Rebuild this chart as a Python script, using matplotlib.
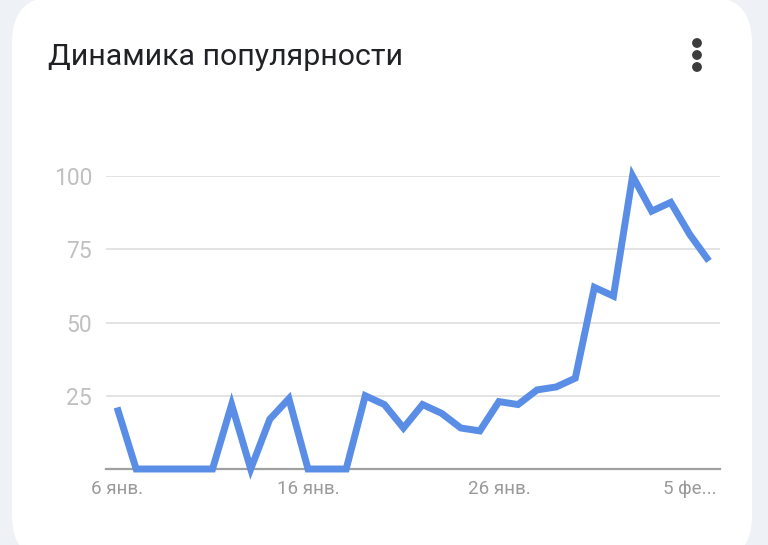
import numpy as np
import matplotlib.pyplot as plt
from matplotlib.patches import FancyBboxPatch, Circle

plt.rcParams['font.family'] = ['Roboto', 'DejaVu Sans']

# data: daily interest, 6 Jan .. 6 Feb
values = [21, 0, 0, 0, 0, 0, 22, 0, 17, 24, 0, 0, 0, 25, 22, 14,
          22, 19, 14, 13, 23, 22, 27, 28, 31, 62, 59, 100, 88, 91, 80, 71]
tick_idx = [0, 10, 20, 30]
tick_labels = ['6 янв.', '16 янв.', '26 янв.', '5 фе...']
y_ticks = [25, 50, 75, 100]
title = 'Динамика популярности'

W, H = 768, 545
fig = plt.figure(figsize=(W / 100, H / 100), dpi=100)
fig.patch.set_facecolor('#eef1f5')

# background card, drawn in pixel coords
bg = fig.add_axes([0, 0, 1, 1])
bg.set_xlim(0, W)
bg.set_ylim(H, 0)
bg.axis('off')
card = FancyBboxPatch((12, -4), 740, 566, boxstyle='round,pad=0,rounding_size=46',
                      facecolor='white', edgecolor='none')
bg.add_patch(card)
bg.text(48, 57, title, fontsize=21.8, color='#202124', va='center', ha='left')
for yy in [43, 55, 67]:
    bg.add_patch(Circle((697, yy), 4.2, color='#3c3c3c'))

# chart axes
left, right, top, base = 106, 720, 176, 469
ax = fig.add_axes([left / W, (H - base) / H, (right - left) / W, (base - top) / H])
ax.set_facecolor('none')
x = np.arange(len(values))
ax.plot(x, values, color='#5a8de6', lw=5, solid_joinstyle='miter',
        solid_capstyle='butt', clip_on=False, zorder=3)
ax.set_xlim(-0.58, 31.58)
ax.set_ylim(0, 100)
ax.set_yticks(y_ticks)
ax.set_xticks(tick_idx)
ax.set_xticklabels(tick_labels)
ax.grid(axis='y', color='#e3e3e3', lw=1.4)
ax.axhline(0, color='#a0a0a0', lw=1.6, zorder=2, clip_on=False)
for s in ax.spines.values():
    s.set_visible(False)
ax.tick_params(axis='y', length=0, pad=10, labelsize=16.5, labelcolor='#c0c0c0')
ax.tick_params(axis='x', length=0, pad=8, labelsize=13.5, labelcolor='#9a9a9a')

fig.savefig('out.png', dpi=100, facecolor=fig.get_facecolor())
